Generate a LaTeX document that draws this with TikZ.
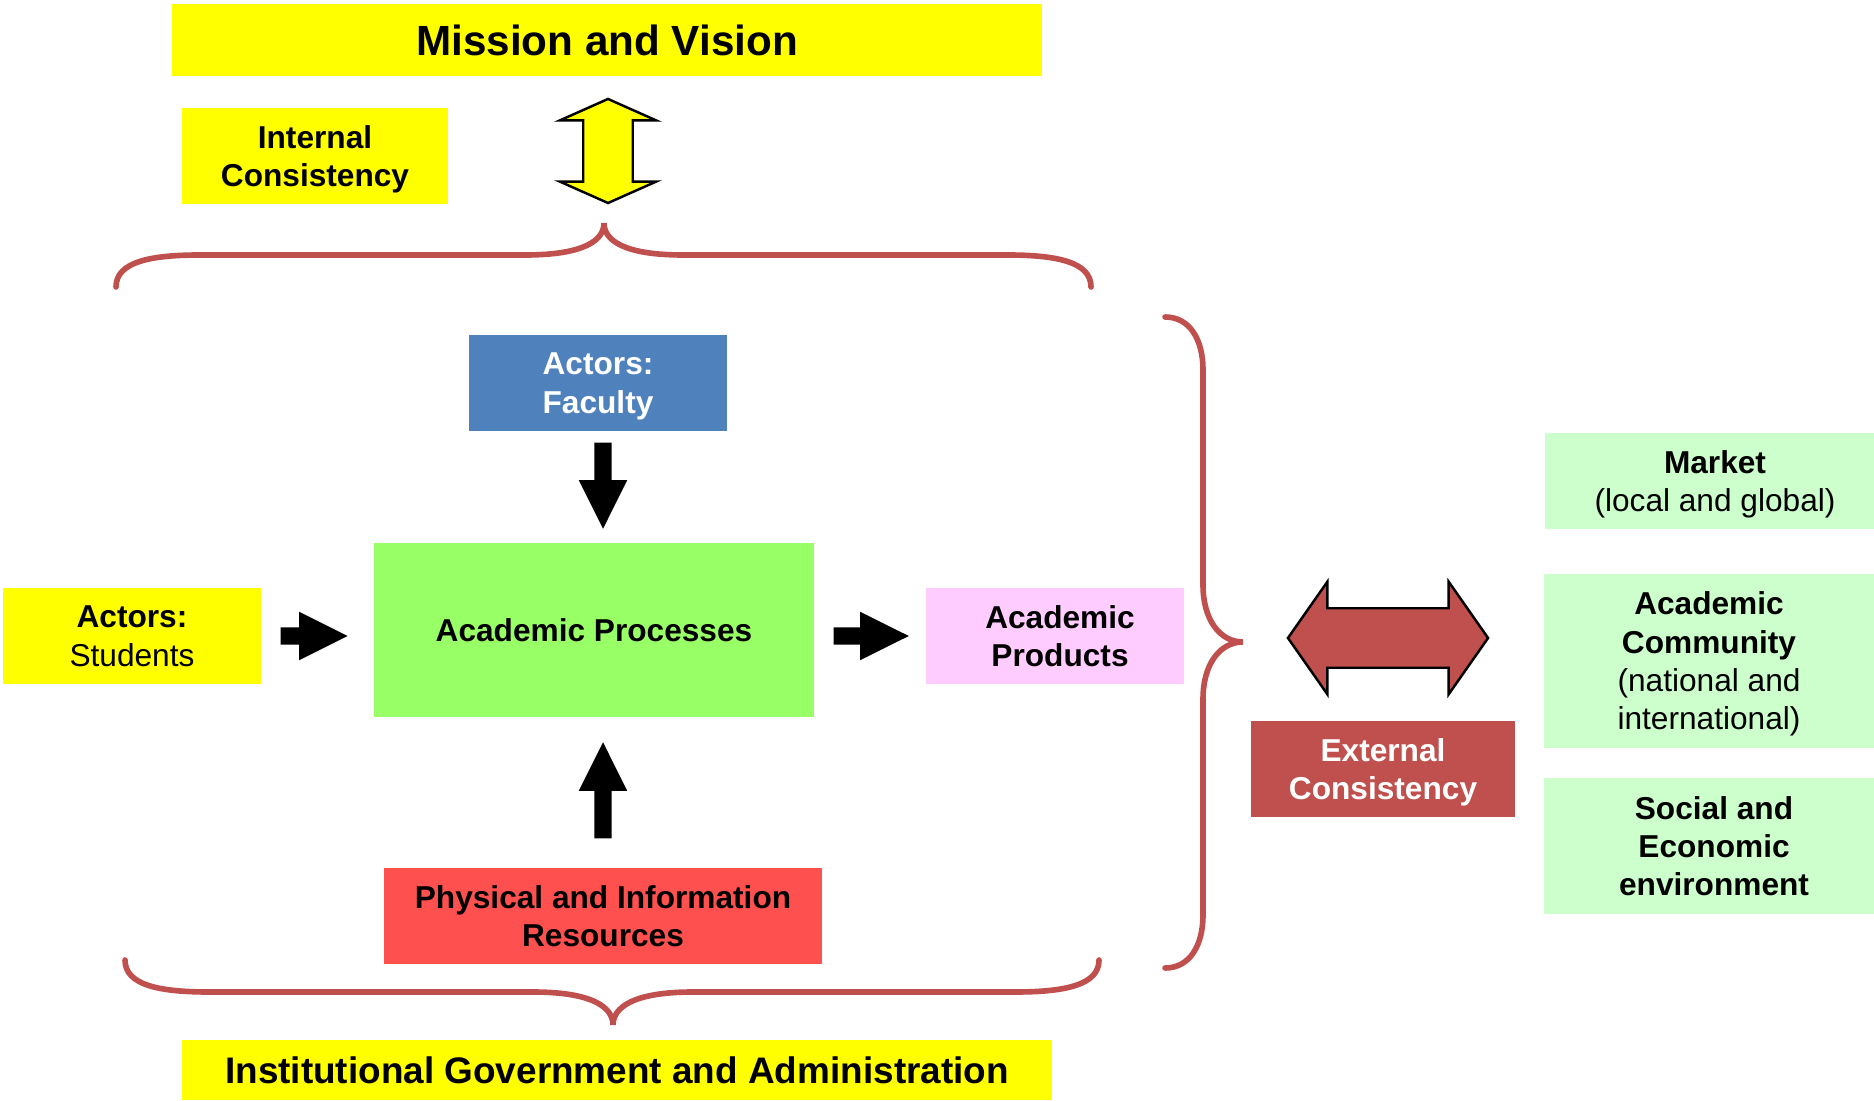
\documentclass[tikz,border=0pt]{standalone}
\usepackage{fontspec}
\setmainfont{Liberation Sans}
\usetikzlibrary{positioning,shapes.arrows}

\definecolor{ayellow}{HTML}{FFFF00}
\definecolor{ablue}{HTML}{4F81BD}
\definecolor{agreen}{HTML}{99FF66}
\definecolor{ared}{HTML}{FF5050}
\definecolor{apink}{HTML}{FFCCFF}
\definecolor{abrick}{HTML}{C0504D}
\definecolor{amint}{HTML}{CCFFCC}

\begin{document}
\begin{tikzpicture}[x=0.01cm, y=-0.01cm,
    textbox/.style={inner sep=0pt, align=center, text depth=-1.2pt, font=\fontsize{9}{10.9}\selectfont\bfseries},
    titlebox/.style={inner sep=0pt, align=center, font=\fontsize{12}{14}\selectfont\bfseries, fill=ayellow, minimum width=8.69cm},
    sidebox/.style={textbox, fill=amint},
    blkarrow/.style={single arrow, fill=black, anchor=tail, inner xsep=0pt, inner ysep=0.08cm,
      single arrow head extend=0.155cm, single arrow tip angle=53},
    bracepath/.style={draw=abrick, line width=1.6pt, line cap=round}]
  \useasboundingbox (0,0) rectangle (1874,1101);

  % top row
  \node[titlebox, minimum height=0.71cm] (mission) at (607,40) {Mission and Vision};
  \node[textbox, fill=ayellow, minimum width=2.65cm, minimum height=0.95cm] (internal) at (315,156) {Internal\\Consistency};
  \node[double arrow, draw=black, line width=0.7pt, fill=ayellow, rotate=90, inner xsep=0pt, inner ysep=0.235cm,
    minimum height=1.04cm, double arrow head extend=0.235cm,
    double arrow tip angle=132] (intarrow) at (608,151) {};

  % central block
  \node[textbox, fill=ablue, text=white, minimum width=2.57cm, minimum height=0.95cm] (faculty) at (598,383) {Actors:\\Faculty};
  \node[textbox, fill=agreen, minimum width=4.39cm, minimum height=1.73cm] (process) at (594,630) {Academic Processes};
  \node[textbox, fill=ared, minimum width=4.37cm, minimum height=0.95cm] (physical) at (603,916) {Physical and Information\\Resources};
  \node[textbox, fill=ayellow, minimum width=2.57cm, minimum height=0.96cm] (students) at (132,636) {Actors:\\\mdseries Students};
  \node[textbox, fill=apink, minimum width=2.57cm, minimum height=0.96cm] (products) at (1055,636) {\hspace*{0.1cm}Academic\\\hspace*{0.1cm}Products};

  \node[blkarrow, rotate=-90, minimum height=0.86cm] (dnarrow) at (603,442) {};
  \node[blkarrow, rotate=90, minimum height=0.96cm] (uparrow) at (603,839) {};
  \node[blkarrow, minimum height=0.67cm] (inarrow) at (280,636) {};
  \node[blkarrow, minimum height=0.75cm] (outarrow) at (833,636) {};

  % braces
  \draw[bracepath] (116,287) .. controls (116,262) and (150,255) .. (200,255) -- (525,255)
    .. controls (585,255) and (604,240) .. (604,223)
    .. controls (604,240) and (623,255) .. (683,255) -- (1007,255)
    .. controls (1057,255) and (1091,262) .. (1091,287);
  \draw[bracepath] (125,960) .. controls (125,985) and (159,992) .. (209,992) -- (533,992)
    .. controls (594,992) and (613,1008) .. (613,1025)
    .. controls (613,1008) and (632,992) .. (693,992) -- (1015,992)
    .. controls (1065,992) and (1099,985) .. (1099,960);
  \draw[bracepath] (1165,317) .. controls (1190,317) and (1203,340) .. (1203,370) -- (1203,585)
    .. controls (1203,620) and (1220,642) .. (1243,642)
    .. controls (1220,642) and (1203,664) .. (1203,699) -- (1203,915)
    .. controls (1203,945) and (1190,968) .. (1165,968);

  % external side
  \node[double arrow, draw=black, line width=0.7pt, fill=abrick, inner xsep=0pt, inner ysep=0.285cm,
    minimum height=2.0cm, double arrow head extend=0.265cm,
    double arrow tip angle=110] (extarrow) at (1388,638) {};
  \node[textbox, fill=abrick, text=white, minimum width=2.64cm, minimum height=0.95cm] (external) at (1383,769) {External\\Consistency};
  \node[sidebox, minimum width=3.40cm, minimum height=0.95cm] (market) at (1715,481) {Market\\\mdseries (local and global)};
  \node[sidebox, minimum width=3.30cm, minimum height=1.73cm] (community) at (1709,661) {Academic\\Community\\\mdseries (national and\\\mdseries international)};
  \node[sidebox, minimum width=3.40cm, minimum height=1.35cm] (social) at (1714,846) {Social and\\Economic\\environment};

  % bottom
  \node[titlebox, font=\fontsize{10.5}{12.5}\selectfont\bfseries, minimum height=0.60cm] (institution) at (617,1070) {Institutional Government and Administration};
\end{tikzpicture}
\end{document}
